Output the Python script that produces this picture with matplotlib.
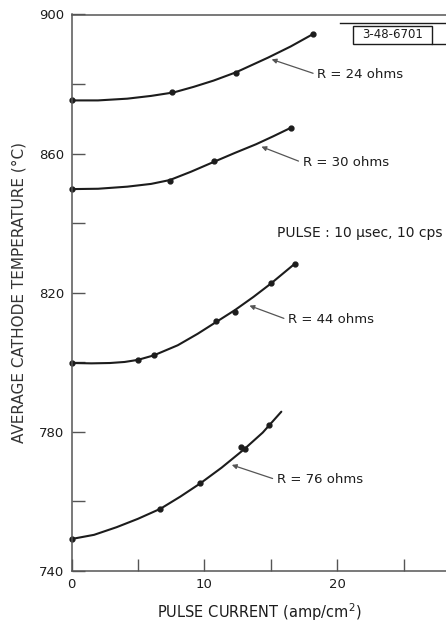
import numpy as np
import matplotlib
matplotlib.use("Agg")
from matplotlib import pyplot as plt
from matplotlib.lines import Line2D
from matplotlib.patches import Rectangle

# Measured points (pulse current, temperature) for each load resistance
R24_X = [0.0, 7.6, 12.4, 18.2]
R24_Y = [875.5, 877.6, 883.1, 894.4]
R30_X = [0.0, 7.4, 10.7, 16.5]
R30_Y = [849.8, 852.2, 857.8, 867.4]
R44_X = [0.0, 5.0, 6.2, 10.9, 12.3, 15.0, 16.8]
R44_Y = [799.8, 800.7, 802.2, 812.0, 814.4, 822.8, 828.3]
R76_X = [0.0, 6.7, 9.7, 12.8, 13.1, 14.9]
R76_Y = [749.2, 757.8, 765.4, 775.6, 775.0, 782.0]

# Hand-drawn smooth curves
C24_X = [0.0, 2.0, 4.2, 6.0, 7.7, 9.2, 10.7, 12.4, 14.8, 16.5, 18.2]
C24_Y = [875.3, 875.3, 875.8, 876.6, 877.6, 879.2, 881.0, 883.4, 887.6, 890.8, 894.4]
C30_X = [0.0, 2.0, 4.2, 6.0, 7.4, 9.0, 10.7, 12.3, 13.9, 15.2, 16.5]
C30_Y = [849.8, 849.9, 850.5, 851.3, 852.4, 854.8, 857.6, 860.2, 862.7, 865.0, 867.4]
C44_X = [0.0, 1.5, 2.9, 4.0, 5.0, 6.2, 8.0, 9.5, 10.9, 12.3, 13.7, 15.0, 16.8]
C44_Y = [799.8, 799.7, 799.8, 800.1, 800.7, 802.0, 804.9, 808.2, 811.6, 815.0, 818.8, 822.6, 828.3]
C76_X = [0.0, 1.7, 3.4, 5.0, 6.7, 8.2, 9.7, 11.3, 13.0, 14.4, 15.8]
C76_Y = [749.2, 750.4, 752.6, 755.0, 757.9, 761.4, 765.2, 769.7, 775.0, 779.8, 785.8]

LABELS = ["R = 24 ohms", "R = 30 ohms", "R = 44 ohms", "R = 76 ohms"]
LABEL_XY = [(18.5, 882.7), (17.4, 857.4), (16.3, 812.2), (15.45, 766.2)]
ARROW_XY = [(15.07, 887.1), (14.3, 862.0), (13.4, 816.3), (12.07, 770.5)]

X_MAJOR = [0, 10, 20]
X_MINOR = [5, 15, 25]
Y_MAJOR = [740, 780, 820, 860, 900]
Y_MINOR = [760, 800, 840, 880]

ink = "#1c1c1c"
grey = "#555555"

fig = plt.figure(figsize=(4.46, 6.23), dpi=100)
ax = fig.add_axes([71.5 / 446, 1 - 571 / 623, 1 - 71.5 / 446, (571 - 14.5) / 623])

curves = [(C24_X, C24_Y), (C30_X, C30_Y), (C44_X, C44_Y), (C76_X, C76_Y)]
points = [(R24_X, R24_Y), (R30_X, R30_Y), (R44_X, R44_Y), (R76_X, R76_Y)]
for (cx, cy), (px, py) in zip(curves, points):
    ax.plot(cx, cy, color=ink, lw=1.5, solid_joinstyle="round",
            solid_capstyle="round", clip_on=False)
    ax.plot(px, py, "o", color=ink, ms=3.5, clip_on=False)

for lab, txy, axy in zip(LABELS, LABEL_XY, ARROW_XY):
    ax.annotate(lab, xy=axy, xytext=txy, ha="left", va="center",
                fontsize=9.5, color=ink,
                arrowprops=dict(arrowstyle="-|>", color=grey, lw=0.9,
                                mutation_scale=7, shrinkA=1, shrinkB=0,
                                relpos=(0, 0.5)))

ax.text(15.5, 837.3, "PULSE : 10 \u03bcsec, 10 cps", fontsize=10, color=ink,
        ha="left", va="center")

ax.set_xlim(0, 28.2)
ax.set_ylim(740, 900)
ax.set_xticks(X_MAJOR)
ax.set_xticks(X_MINOR, minor=True)
ax.set_yticks(Y_MAJOR)
ax.set_yticks(Y_MINOR, minor=True)
ax.tick_params(which="both", direction="in", length=9, width=1.0, color=grey,
               labelsize=9.5, labelcolor=ink)
ax.tick_params(axis="y", pad=5)
ax.tick_params(axis="x", pad=5)
ax.spines["right"].set_visible(False)
for s in ("left", "top", "bottom"):
    ax.spines[s].set_color(grey)
    ax.spines[s].set_linewidth(1.1)

ax.set_ylabel("AVERAGE CATHODE TEMPERATURE (\u00b0C)", fontsize=11, color="#333333",
              labelpad=9)
ax.set_xlabel("PULSE CURRENT (amp/cm$^{2}$)", fontsize=10.5, color=ink,
              va="center")
# centre the x label ~612 px down the figure
ax.xaxis.set_label_coords(0.5, -(612 - 571) / (571 - 14.5))

# figure number plate in the top right corner
W, H = 446, 623
fig.add_artist(Line2D([340 / W, 1.0], [1 - 22.5 / H, 1 - 22.5 / H], color=ink, lw=1.0))
fig.add_artist(Line2D([432 / W, 1.0], [1 - 43.5 / H, 1 - 43.5 / H], color=ink, lw=1.0))
fig.add_artist(Rectangle((353 / W, 1 - 44 / H), 79 / W, 18 / H, fill=False,
                         edgecolor=ink, lw=1.0))
fig.text(392.5 / W, 1 - 35 / H, "3-48-6701", fontsize=8.5, color=ink,
         ha="center", va="center")

fig.savefig("out.png", dpi=100)
